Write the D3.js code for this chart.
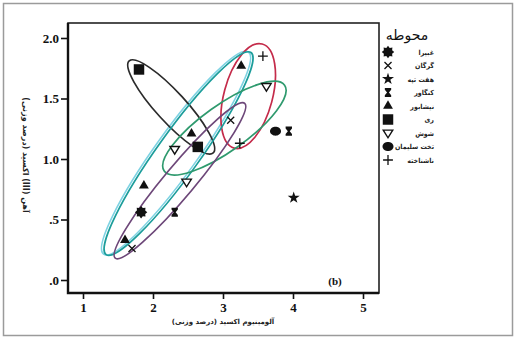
<!DOCTYPE html>
<html>
<head>
<meta charset="utf-8">
<script src="https://cdn.jsdelivr.net/npm/d3@7"></script>
<style>
  body { margin: 0; background: #fff; }
  #wrapper { width: 516px; height: 339px; }
</style>
</head>
<body>
<div id="wrapper"></div>
<script>
// sites (legend order)
let sites = ["غبیرا", "گرگان", "هفت تپه", "کنگاور", "نیشابور", "ری", "شوش", "تخت سلیمان", "ناشناخته"];

// samples: Al2O3 (x), Fe2O3 (y), site index
let sampleAl = [1.83, 3.11, 1.70, 4.01, 3.94, 2.31, 3.26, 2.55, 1.87, 1.60, 1.80, 2.64, 3.62, 2.31, 2.48, 3.75, 3.57, 3.24];
let sampleFe = [0.56, 1.32, 0.26, 0.68, 1.23, 0.56, 1.77, 1.21, 0.78, 0.33, 1.74, 1.10, 1.60, 1.08, 0.81, 1.23, 1.85, 1.13];
let sampleSite = [0, 1, 1, 2, 3, 3, 4, 4, 4, 4, 5, 5, 6, 6, 6, 7, 8, 8];

// group ellipses: site, major axis ends (data units), minor/major ratio
let ellipseSite = [5, 8, 4, 6, 1];
let ellipseX1 = [1.66, 3.16, 1.33, 2.16, 1.46];
let ellipseY1 = [1.81, 1.09, 0.21, 0.90, 0.18];
let ellipseX2 = [2.86, 3.56, 3.40, 3.88, 3.31];
let ellipseY2 = [1.05, 1.95, 1.88, 1.61, 1.46];
let ellipseRatio = [0.24, 0.45, 0.17, 0.31, 0.15];

let xTicks = [1, 2, 3, 4, 5];
let yTicks = [0, 0.5, 1, 1.5, 2];

let xTitle = "آلومینیوم اکسید (درصد وزنی)";
let yTitle = "آهن (III) اکسید (درصد وزنی)";
let legendTitle = "محوطه";

let dimensions = {
  width: 516,
  height: 339,
  margin: { top: 23, right: 137, bottom: 46, left: 68 }
};
dimensions.boundedWidth = dimensions.width - dimensions.margin.left - dimensions.margin.right;
dimensions.boundedHeight = dimensions.height - dimensions.margin.top - dimensions.margin.bottom;

let persianFont = "'DejaVu Sans', sans-serif";
let legendFont = "'DejaVu Sans Condensed', 'DejaVu Sans', sans-serif";
let numberFont = "'Liberation Serif', serif";

let ellipseColors = {
  5: "#2b2b2b",
  8: "#c42b4a",
  4: "#1c9d9b",
  6: "#2f9a6e",
  1: "#6d4779"
};

// custom symbol shapes
function polygon(ctx, pts) {
  pts.forEach((p, i) => (i ? ctx.lineTo(p[0], p[1]) : ctx.moveTo(p[0], p[1])));
  ctx.closePath();
}
let sunShape = {
  draw(ctx, size) {
    let r = Math.sqrt(size) * 0.62;
    polygon(ctx, d3.range(16).map(i => {
      let a = (i * Math.PI) / 8;
      let rr = i % 2 ? r * 0.72 : r;
      return [rr * Math.sin(a), -rr * Math.cos(a)];
    }));
  }
};
let hourglassShape = {
  draw(ctx, size) {
    let w = Math.sqrt(size) * 0.38, h = Math.sqrt(size) * 0.55;
    polygon(ctx, [[-w, -h], [w, -h], [w, -h * 0.6], [w * 0.3, 0], [w, h * 0.6], [w, h],
                  [-w, h], [-w, h * 0.6], [-w * 0.3, 0], [-w, -h * 0.6]]);
  }
};
let downTriangleShape = {
  draw(ctx, size) {
    let r = Math.sqrt(size) * 0.55;
    polygon(ctx, [[-r, -r * 0.6], [r, -r * 0.6], [0, r]]);
  }
};
let crossShape = {
  draw(ctx, size) {
    let r = Math.sqrt(size) * 0.42;
    ctx.moveTo(-r, -r); ctx.lineTo(r, r);
    ctx.moveTo(-r, r); ctx.lineTo(r, -r);
  }
};
let plusShape = {
  draw(ctx, size) {
    let r = Math.sqrt(size) * 0.55;
    ctx.moveTo(-r, 0); ctx.lineTo(r, 0);
    ctx.moveTo(0, -r); ctx.lineTo(0, r);
  }
};
let ovalShape = {
  draw(ctx, size) {
    let rx = Math.sqrt(size) * 0.55, ry = Math.sqrt(size) * 0.45;
    polygon(ctx, d3.range(36).map(i => {
      let a = (i * Math.PI) / 18;
      return [rx * Math.cos(a), ry * Math.sin(a)];
    }));
  }
};
let squareShape = {
  draw(ctx, size) {
    let s = Math.sqrt(size) / 2;
    ctx.rect(-s, -s, 2 * s, 2 * s);
  }
};

// per site: shape, size, filled?
let siteSymbols = [
  { type: sunShape, size: 100, fill: true },
  { type: crossShape, size: 70, fill: false },
  { type: d3.symbolStar, size: 45, fill: true },
  { type: hourglassShape, size: 70, fill: true },
  { type: d3.symbolTriangle, size: 42, fill: true },
  { type: squareShape, size: 110, fill: true },
  { type: downTriangleShape, size: 75, fill: false, open: true },
  { type: ovalShape, size: 100, fill: true },
  { type: plusShape, size: 80, fill: false }
];

function styleSymbol(sel, site) {
  let s = siteSymbols[site];
  sel
    .attr("d", d3.symbol().type(s.type).size(s.size)())
    .attr("fill", s.open ? "#fff" : s.fill ? "#111" : "none")
    .attr("stroke", s.fill ? "none" : "#111")
    .attr("stroke-width", s.open ? 1.4 : 1.3);
}

function drawChart() {
  let svg = d3
    .select("#wrapper")
    .append("svg")
    .attr("width", dimensions.width)
    .attr("height", dimensions.height);

  // outer frame
  svg
    .append("rect")
    .attr("x", 3.5)
    .attr("y", 3.5)
    .attr("width", 509)
    .attr("height", 332)
    .attr("fill", "none")
    .attr("stroke", "#9b9b9b")
    .attr("stroke-width", 1.5);

  let bounds = svg
    .append("g")
    .attr("transform", `translate(${dimensions.margin.left}, ${dimensions.margin.top})`);

  let xScale = d3
    .scaleLinear()
    .domain([1 - 15 / 70, 1 + 296 / 70])
    .range([0, dimensions.boundedWidth]);

  let yScale = d3
    .scaleLinear()
    .domain([-13 / 121, 257 / 121])
    .range([dimensions.boundedHeight, 0]);

  // ellipses
  let ellipseData = ellipseSite.map((site, i) => {
    let p1 = [xScale(ellipseX1[i]), yScale(ellipseY1[i])];
    let p2 = [xScale(ellipseX2[i]), yScale(ellipseY2[i])];
    let rx = Math.hypot(p2[0] - p1[0], p2[1] - p1[1]) / 2;
    return {
      site,
      cx: (p1[0] + p2[0]) / 2,
      cy: (p1[1] + p2[1]) / 2,
      rx,
      ry: rx * ellipseRatio[i],
      angle: (Math.atan2(p2[1] - p1[1], p2[0] - p1[0]) * 180) / Math.PI
    };
  });

  let ellipseGroup = bounds.append("g");

  // light cyan fringe that follows the nishabur ellipse
  ellipseGroup
    .selectAll(".fringe")
    .data(ellipseData.filter(d => d.site === 4))
    .join("ellipse")
    .attr("class", "fringe")
    .attr("rx", d => d.rx)
    .attr("ry", d => d.ry)
    .attr("transform", d => `translate(${d.cx - 2.5}, ${d.cy - 0.5}) rotate(${d.angle})`)
    .attr("fill", "none")
    .attr("stroke", "#7fd3e3")
    .attr("stroke-width", 1.6);

  ellipseGroup
    .selectAll(".group-ellipse")
    .data(ellipseData)
    .join("ellipse")
    .attr("class", "group-ellipse")
    .attr("rx", d => d.rx)
    .attr("ry", d => d.ry)
    .attr("transform", d => `translate(${d.cx}, ${d.cy}) rotate(${d.angle})`)
    .attr("fill", "none")
    .attr("stroke", d => ellipseColors[d.site])
    .attr("stroke-width", 1.7);

  // points
  bounds
    .append("g")
    .selectAll("path")
    .data(sampleAl.map((x, i) => ({ x, y: sampleFe[i], site: sampleSite[i] })))
    .join("path")
    .attr("transform", d => `translate(${xScale(d.x)}, ${yScale(d.y)})`)
    .each(function(d) {
      styleSymbol(d3.select(this), d.site);
    });

  // plot frame
  bounds
    .append("rect")
    .attr("width", dimensions.boundedWidth)
    .attr("height", dimensions.boundedHeight)
    .attr("fill", "none")
    .attr("stroke", "#222")
    .attr("stroke-width", 1.6);

  bounds
    .append("path")
    .attr("d", `M0,0V${dimensions.boundedHeight}H${dimensions.boundedWidth}`)
    .attr("fill", "none")
    .attr("stroke", "#111")
    .attr("stroke-width", 2.4);

  // axes
  let xAxisGenerator = d3
    .axisBottom(xScale)
    .tickValues(xTicks)
    .tickSize(5)
    .tickPadding(4)
    .tickFormat(d3.format("d"));

  let xAxis = bounds
    .append("g")
    .attr("transform", `translate(0, ${dimensions.boundedHeight + 1})`)
    .call(xAxisGenerator);

  let yAxisGenerator = d3
    .axisLeft(yScale)
    .tickValues(yTicks)
    .tickSize(6)
    .tickPadding(2)
    .tickFormat(d => d3.format(".1f")(d).replace(/^0\./, "."));

  let yAxis = bounds
    .append("g")
    .attr("transform", "translate(-1, 0)")
    .call(yAxisGenerator);

  [xAxis, yAxis].forEach(axis => {
    axis.select(".domain").remove();
    axis.selectAll(".tick line").attr("stroke", "#111").attr("stroke-width", 1.6);
    axis
      .selectAll(".tick text")
      .attr("fill", "#111")
      .attr("font-family", numberFont)
      .attr("font-weight", "bold")
      .attr("font-size", 13);
  });

  // (b)
  bounds
    .append("text")
    .attr("x", xScale(4.6))
    .attr("y", yScale(-0.04))
    .attr("font-family", numberFont)
    .attr("font-weight", "bold")
    .attr("font-size", 11)
    .attr("text-anchor", "middle")
    .attr("fill", "#111")
    .text("(b)");

  // axis titles
  svg
    .append("text")
    .attr("x", dimensions.margin.left + xScale(3))
    .attr("y", 324)
    .attr("font-family", persianFont)
    .attr("font-size", 7)
    .attr("font-weight", "bold")
    .attr("text-anchor", "middle")
    .attr("direction", "rtl")
    .attr("fill", "#222")
    .text(xTitle);

  svg
    .append("text")
    .attr("transform", "translate(23, 155) rotate(90)")
    .attr("font-family", persianFont)
    .attr("font-size", 8)
    .attr("font-weight", "bold")
    .attr("text-anchor", "middle")
    .attr("direction", "rtl")
    .attr("fill", "#222")
    .text(yTitle);

  // legend
  let legend = svg.append("g").attr("transform", "translate(388, 0)");

  legend
    .append("text")
    .attr("x", 19)
    .attr("y", 40)
    .attr("font-family", persianFont)
    .attr("font-size", 14)
    .attr("text-anchor", "middle")
    .attr("fill", "#111")
    .text(legendTitle);

  let items = legend
    .selectAll(".item")
    .data(sites)
    .join("g")
    .attr("class", "item")
    .attr("transform", (d, i) => `translate(0, ${52 + i * 13.5})`);

  items.append("path").each(function(d, i) {
    styleSymbol(d3.select(this), i);
  });

  // right edge of each label sits at x = 46
  items
    .append("text")
    .attr("x", 46)
    .attr("y", 2.5)
    .attr("font-family", legendFont)
    .attr("font-size", 7)
    .attr("font-weight", "bold")
    .attr("text-anchor", "end")
    .attr("fill", "#222")
    .text(d => d);
}

drawChart();
</script>
</body>
</html>
